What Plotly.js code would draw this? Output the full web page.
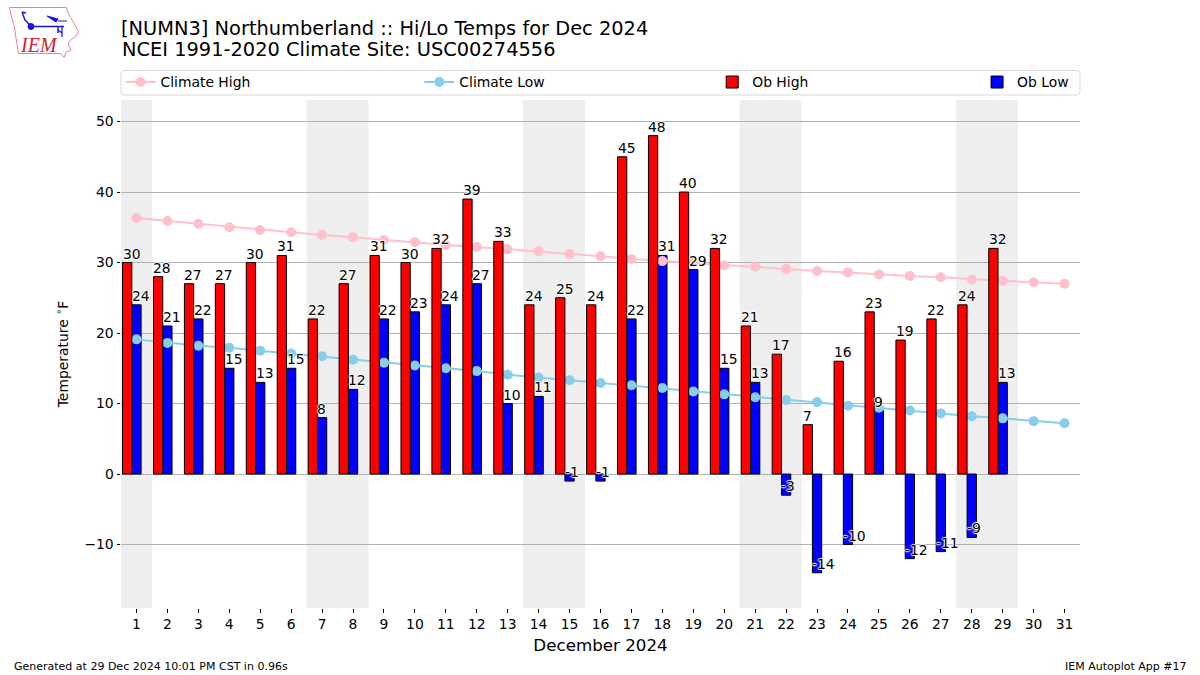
<!DOCTYPE html>
<html>
<head>
<meta charset="utf-8">
<script src="https://cdn.plot.ly/plotly-3.0.1.min.js"></script>
<style>
html,body{margin:0;padding:0;background:#fff;width:1200px;height:675px;overflow:hidden}
#chart{position:absolute;left:0;top:0;width:1200px;height:675px}
#logo{position:absolute;left:0;top:0;z-index:5}
</style>
</head>
<body>
<div id="chart"></div>
<svg id="logo" width="90" height="65" viewBox="0 0 90 65">
  <path d="M9.5 7.5H66.5L68 13L72 20L75 25L78.5 32L76 36L69 41.5L68.5 45L71 50L66 52L64 57.5L60.5 53.5H18.5L16 38L14.5 27L11 15Z" fill="#fff" stroke="#e8868c" stroke-width="1"/>
  <g stroke="#1414d8" fill="#1414d8">
    <path d="M31 26.5H64M58 27V33M22 12L25 20L31 26M22 12L26 13" fill="none" stroke-width="1.4"/>
    <circle cx="31" cy="26.5" r="3"/>
    <path d="M47 16L58 19L56 22Z" stroke-width="1"/>
    <path d="M58 21H67M58 30L62 33M62 27V37" fill="none" stroke-width="1.2"/>
  </g>
  <text x="21" y="51.5" font-family="Liberation Serif" font-style="italic" font-size="20" fill="#d3222c">IEM</text>
</svg>
<script>
var days = [1,2,3,4,5,6,7,8,9,10,11,12,13,14,15,16,17,18,19,20,21,22,23,24,25,26,27,28,29,30,31];
var obHigh = [30,28,27,27,30,31,22,27,31,30,32,39,33,24,25,24,45,48,40,32,21,17,7,16,23,19,22,24,32];
var obLow = [24,21,22,15,13,15,8,12,22,23,24,27,10,11,-1,-1,22,31,29,15,13,-3,-14,-10,9,-12,-11,-9,13];
var climateHigh = [36.3,35.9,35.5,35.0,34.6,34.3,33.9,33.6,33.2,32.9,32.5,32.2,31.9,31.6,31.2,30.9,30.5,30.2,30.0,29.6,29.4,29.1,28.8,28.6,28.3,28.1,27.9,27.6,27.4,27.2,27.0];
var climateLow = [19.1,18.6,18.2,17.9,17.5,17.1,16.7,16.2,15.8,15.4,15.0,14.6,14.1,13.7,13.3,12.9,12.6,12.2,11.7,11.3,10.9,10.5,10.2,9.7,9.4,9.0,8.6,8.2,7.9,7.5,7.2];
var weekendSpans = [[0.5,1.5],[6.5,8.5],[13.5,15.5],[20.5,22.5],[27.5,29.5]];
var yTicks = [-10,0,10,20,30,40,50];

var FONT = 'DejaVu Sans';
var halo = '-1px 0 1px #fff, 1px 0 1px #fff, 0 -1px 1px #fff, 0 1px 1px #fff';

function lineTrace(name, vals, color, legend, z) {
  return {type:'scatter', mode:'lines+markers', name:name, x:days, y:vals, legend:legend, zorder:z,
          line:{color:color, width:2}, marker:{color:color, size:10}, hoverinfo:'skip', cliponaxis:false};
}
function barTrace(name, vals, color, offset, legend, z) {
  return {type:'bar', name:name, x:days.slice(0, vals.length), y:vals, width:0.3, offset:offset, legend:legend, zorder:z,
          marker:{color:color, line:{color:'#000', width:1}}, hoverinfo:'skip'};
}
var traces = [
  lineTrace('Climate High', climateHigh, '#ffc0cb', 'legend', 1),
  lineTrace('Climate Low', climateLow, '#87ceeb', 'legend2', 1),
  barTrace('Ob High', obHigh, '#ff0000', -0.45, 'legend3', 2),
  barTrace('Ob Low', obLow, '#0000ff', -0.15, 'legend4', 0)
];

function valueLabels(vals, offset) {
  return vals.map(function (v, i) {
    return {x:days[i] + offset, y:v, xref:'x', yref:'y', text:String(v), showarrow:false,
            xanchor:'left', yanchor:'bottom', xshift:-1, yshift:0, borderpad:0,
            font:{family:FONT, size:13.9, color:'#000', shadow:halo}};
  });
}
var notes = valueLabels(obHigh, -0.45).concat(valueLabels(obLow, -0.15));
notes.push({xref:'paper', yref:'paper', x:0, y:(608-50)/508, xanchor:'left', yanchor:'middle', showarrow:false, borderpad:0,
            text:'NCEI 1991-2020 Climate Site: USC00274556', font:{family:FONT, size:19.4, color:'#000'}});
notes.push({xref:'paper', yref:'paper', x:(12-120.5)/959.5, y:(608-666.5)/508, xanchor:'left', yanchor:'middle', showarrow:false, borderpad:0,
            text:'Generated at 29 Dec 2024 10:01 PM CST in 0.96s', font:{family:FONT, size:11, color:'#000'}});
notes.push({xref:'paper', yref:'paper', x:(1188-120.5)/959.5, y:(608-666.5)/508, xanchor:'right', yanchor:'middle', showarrow:false, borderpad:0,
            text:'IEM Autoplot App #17', font:{family:FONT, size:11, color:'#000'}});

var shapes = weekendSpans.map(function (s) {
  return {type:'rect', xref:'x', yref:'paper', x0:s[0], x1:s[1], y0:0, y1:1, fillcolor:'#eeeeee', line:{width:0}, layer:'below'};
});
shapes.push({type:'path', xref:'paper', yref:'paper', layer:'below', fillcolor:'#fff', line:{color:'#d9d9d9', width:1},
  path:'M 0.002 1.0590 L 0.998 1.0590 Q 1 1.0590 1 1.0630 L 1 1.0531 L 1 1.0 ' });
shapes.pop();
var bx0 = 0, bx1 = 1, by0 = (608-95)/508, by1 = (608-70.5)/508, rx = 3/959.5, ry = 3/508;
shapes.push({type:'path', xref:'paper', yref:'paper', layer:'below', fillcolor:'#fff', line:{color:'#d9d9d9', width:1},
  path:'M '+(bx0+rx)+' '+by0+' L '+(bx1-rx)+' '+by0+' Q '+bx1+' '+by0+' '+bx1+' '+(by0+ry)+' L '+bx1+' '+(by1-ry)+' Q '+bx1+' '+by1+' '+(bx1-rx)+' '+by1+
       ' L '+(bx0+rx)+' '+by1+' Q '+bx0+' '+by1+' '+bx0+' '+(by1-ry)+' L '+bx0+' '+(by0+ry)+' Q '+bx0+' '+by0+' '+(bx0+rx)+' '+by0+' Z'});

function legendAt(px) {
  return {x:(px-120.5)/959.5, y:(608-82.5)/508, xanchor:'left', yanchor:'middle', bgcolor:'rgba(0,0,0,0)', borderwidth:0,
          font:{family:FONT, size:13.9, color:'#000'}, itemclick:false, itemdoubleclick:false};
}

var layout = {
  width:1200, height:675, autosize:false,
  paper_bgcolor:'#fff', plot_bgcolor:'#fff',
  font:{family:FONT, size:13.9, color:'#000'},
  margin:{l:120.5, r:120, t:100, b:67, pad:0},
  barmode:'overlay', showlegend:true,
  title:{text:'[NUMN3] Northumberland :: Hi/Lo Temps for Dec 2024', xref:'paper', x:0, xanchor:'left',
         yref:'container', y:1-28.5/675, yanchor:'middle', pad:{l:0,r:0,t:0,b:0},
         font:{family:FONT, size:19.4, color:'#000'}},
  xaxis:{range:[0.5,31.5], tickmode:'array', tickvals:days, ticktext:days.map(String), ticks:'outside', ticklen:3.5, tickwidth:1, tickcolor:'#000',
         showgrid:false, zeroline:false, showline:true, linecolor:'#000', linewidth:1, mirror:true, tickfont:{family:FONT, size:13.9},
         title:{text:'December 2024', font:{family:FONT, size:16.7}, standoff:8}},
  yaxis:{range:[-19.0,53.05], tickmode:'array', tickvals:yTicks, ticktext:yTicks.map(function(v){return v<0?'\u2212'+(-v):String(v);}), ticks:'outside', ticklen:3.5, tickwidth:1, tickcolor:'#000',
         showgrid:true, gridcolor:'#b0b0b0', gridwidth:1, zeroline:false, showline:true, linecolor:'#000', linewidth:1, mirror:true, tickfont:{family:FONT, size:13.9},
         title:{text:'Temperature <sup>\u2218</sup>F', font:{family:FONT, size:13.9}, standoff:12}},
  legend:legendAt(120), legend2:legendAt(419), legend3:legendAt(712), legend4:legendAt(977),
  shapes:shapes, annotations:notes
};

Plotly.newPlot('chart', traces, layout, {displayModeBar:false, staticPlot:false}).then(function (gd) {
  gd.querySelectorAll('.legendbar path, .legendpoints .legendbar path').forEach(function (p) {
    p.setAttribute('d', 'M14,5H-14V-5H14Z');
  });
});
</script>
</body>
</html>
